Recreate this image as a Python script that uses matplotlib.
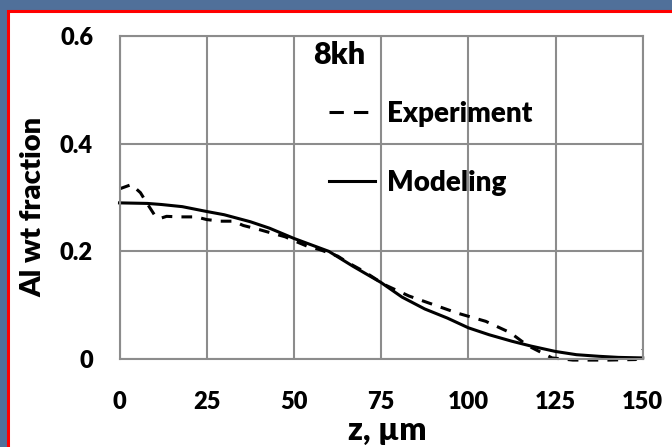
import numpy as np
import matplotlib
matplotlib.use('Agg')
import matplotlib.pyplot as plt
from matplotlib.patches import Rectangle
from matplotlib.lines import Line2D

plt.rcParams['font.family'] = ['Lato', 'DejaVu Sans']

# Modeling (solid) curve
z_model = [0, 8, 12, 18, 25, 30, 37.5, 43, 50, 55, 60, 67, 75, 81, 87.5, 94,
           100, 106, 112.5, 118, 125, 131, 137.5, 143, 150]
al_model = [0.290, 0.289, 0.287, 0.283, 0.274, 0.268, 0.255, 0.243, 0.224, 0.212,
            0.200, 0.172, 0.142, 0.115, 0.093, 0.076, 0.058, 0.045, 0.033, 0.024,
            0.014, 0.008, 0.005, 0.003, 0.002]

# Experiment (dashed) curve
z_exp = [0, 3.4, 6, 7.8, 10, 11.6, 13.5, 17, 22, 25, 29, 32.6, 35.5, 40.3, 43,
         47.5, 50.3, 54, 57.5, 62.6, 65.5, 70, 76, 83, 90, 97, 105, 112, 117,
         124, 130, 140, 148, 150]
al_exp = [0.316, 0.324, 0.309, 0.290, 0.268, 0.261, 0.265, 0.264, 0.264, 0.259,
          0.256, 0.256, 0.248, 0.240, 0.235, 0.227, 0.219, 0.209, 0.203, 0.191,
          0.179, 0.163, 0.138, 0.117, 0.101, 0.085, 0.070, 0.049, 0.025, 0.002,
          -0.002, -0.002, -0.001, 0.017]

x_ticks = [0, 25, 50, 75, 100, 125, 150]
y_ticks = [0, 0.2, 0.4, 0.6]
y_tick_labels = ['0', '0.2', '0.4', '0.6']

W, H = 672, 447
fig = plt.figure(figsize=(W / 100, H / 100), dpi=100)
fig.patch.set_facecolor('#50709a')

# white slide panel with red frame
fig.patches.append(Rectangle((8.2 / W, -0.05), 1.1, (H - 11.3) / H + 0.05,
                             transform=fig.transFigure, facecolor='white',
                             edgecolor='#ff0000', linewidth=2.2, zorder=-5))

left, right, top, bottom = 119.5, 642.7, 36, 359
ax = fig.add_axes([left / W, 1 - bottom / H, (right - left) / W, (bottom - top) / H])
ax.set_zorder(2)
ax.set_facecolor('white')

wt = 'heavy'
grid_c = '#8c8c8c'
ax.set_xlim(0, 150)
ax.set_ylim(0, 0.6)
ax.set_xticks(x_ticks)
ax.set_yticks(y_ticks)
ax.set_yticklabels(y_tick_labels)
ax.grid(True, color=grid_c, linewidth=1.5)
ax.set_axisbelow(True)
for s in ax.spines.values():
    s.set_color(grid_c)
    s.set_linewidth(1.5)
ax.tick_params(length=0, labelsize=17)
ax.tick_params(axis='y', pad=19)
ax.tick_params(axis='x', pad=23)
for lbl in ax.get_xticklabels() + ax.get_yticklabels():
    lbl.set_fontweight(wt)

ax.plot(z_exp, al_exp, color='black', linewidth=2.2, dashes=(3.5, 3), clip_on=False)
ax.plot(z_model, al_model, color='black', linewidth=2.2, clip_on=False)

ax.set_xlabel('z, µm', fontsize=23, fontweight=wt)
ax.xaxis.set_label_coords(0.511, -0.22)
ax.xaxis.label.set_va('center')
ax.set_ylabel('Al wt fraction', fontsize=21, fontweight=wt)
ax.yaxis.set_label_coords(-0.165, 0.47)
ax.yaxis.label.set_va('center')

ax.text(0.37, 0.941, '8kh', transform=ax.transAxes, fontsize=22,
        fontweight=wt, ha='left', va='center')

handles = [Line2D([], [], color='black', linewidth=2.2, dashes=(4.7, 3.3)),
           Line2D([], [], color='black', linewidth=2.2)]
leg = ax.legend(handles, ['Experiment', 'Modeling'], loc='upper left',
                bbox_to_anchor=(0.40, 0.80), frameon=False, borderpad=0,
                borderaxespad=0, handlelength=1.65, handletextpad=0.45,
                labelspacing=1.55, prop={'size': 20, 'weight': wt})

fig.savefig('out.png', dpi=100, facecolor=fig.get_facecolor())
